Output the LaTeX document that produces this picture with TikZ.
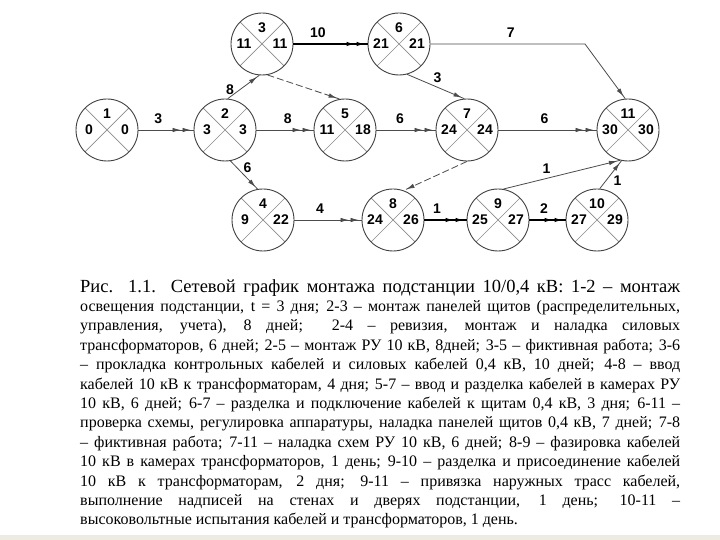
\documentclass[tikz,border=0pt]{standalone}
\usepackage{fontspec}
\setmainfont{Liberation Serif}
\newfontfamily\numfont{Liberation Sans}
\usetikzlibrary{arrows.meta,decorations.markings}

\definecolor{stripbg}{RGB}{238,236,224}

\newcommand{\evnode}[4]{%
  \node[event] (n#1) at (#2) {};
  \node[num] at ([yshift=16pt]n#1.center) {#1};
  \node[num] at ([xshift=-18pt]n#1.center) {#3};
  \node[num] at ([xshift=18pt]n#1.center) {#4};
}

\begin{document}
\begin{tikzpicture}[x=1pt, y=1pt,
  event/.style={circle, draw=black!75, line width=0.9pt, minimum size=62pt, inner sep=0pt,
    path picture={\draw[black!45, line width=0.7pt]
      (path picture bounding box.north west) -- (path picture bounding box.south east)
      (path picture bounding box.north east) -- (path picture bounding box.south west);}},
  num/.style={font=\numfont\bfseries\fontsize{14}{15}\selectfont, inner sep=0pt, text=black},
  lab/.style={font=\numfont\bfseries\fontsize{14}{15}\selectfont, inner sep=1pt, text=black},
  flow/.style={draw=black!70, line width=0.8pt, postaction={decorate},
    decoration={markings, mark=at position -3pt with {\arrow{Latex[length=8pt,width=4.5pt]}}}},
  flowgap/.style={flow,
    decoration={markings, mark=at position -13pt with {\arrow{Latex[length=8pt,width=4.5pt]}}}},
  heavy/.style={draw=black, line width=1.3pt},
  dummy/.style={flow, dash pattern=on 7pt off 3pt}]

  \useasboundingbox (0,0) rectangle (720,540);
  \fill[white] (0,0) rectangle (720,540);
  \fill[stripbg] (0,0) rectangle (720,5);

  \evnode{1}{107,410}{0}{0}
  \evnode{2}{225,410}{3}{3}
  \evnode{3}{262,496}{11}{11}
  \evnode{4}{263,320}{9}{22}
  \evnode{5}{345,410}{11}{18}
  \evnode{6}{399,496}{21}{21}
  \evnode{7}{467,410}{24}{24}
  \evnode{8}{393,320}{24}{26}
  \evnode{9}{498,320}{25}{27}
  \evnode{10}{597,320}{27}{29}
  \evnode{11}{628,410}{30}{30}
  \coordinate (b611) at (585,496);

  \draw[flowgap] (n1) -- node[lab, above=5pt, pos=0.36] {3} (n2);
  \draw[flow] (n2.85) -- node[lab, left=5pt, pos=0.4] {8} (n3.265);
  \draw[flowgap] (n2) -- node[lab, above=5pt, pos=0.55] {8} (n5);
  \draw[flow] (n2.-80) -- node[lab, right=5pt, pos=0.25] {6} (n4.100);
  \draw[flowgap, heavy] (n3) -- node[lab, above=5pt, pos=0.33] {10} (n6);
  \draw[dummy] (n3.280) -- (n5.100);
  \draw[flowgap] (n5) -- node[lab, above=5pt, pos=0.4] {6} (n7);
  \draw[flow] (n6.285) -- node[lab, above right=1pt, pos=0.42] {3} (n7.95);
  \draw[flow] (n6) -- node[lab, above=5pt, pos=0.52] {7} (b611) -- (n11.95);
  \draw[flowgap] (n7) -- node[lab, above=5pt, pos=0.47] {6} (n11);
  \draw[dummy] (n7.south) -- (n8.70);
  \draw[flowgap] (n4) -- node[lab, above=5pt, pos=0.38] {4} (n8);
  \draw[flowgap, heavy] (n8) -- node[lab, above=5pt, pos=0.3] {1} (n9);
  \draw[flowgap, heavy] (n9) -- node[lab, above=5pt, pos=0.4] {2} (n10);
  \draw[flow] (n9.80) -- node[lab, above=4pt, pos=0.37] {1} (n11.255);
  \draw[flow] (n10.85) -- node[lab, right=6pt, pos=0.3] {1} (n11.258);

  \node[anchor=north west, inner sep=0pt, text width=600pt, align=justify,
    font=\fontsize{16}{19.4}\selectfont] (caption) at (80,261) {%
    \hyphenpenalty=10000 \exhyphenpenalty=10000
    {\fontsize{18.5}{19.4}\selectfont Рис. 1.1. Сетевой график монтажа подстанции 10/0,4 кВ: 1-2 – монтаж}\linebreak
    освещения подстанции, t = 3 дня; 2-3 – монтаж панелей щитов (распределительных,\linebreak
    управления, учета), 8 дней;\ \ 2-4 – ревизия, монтаж и наладка силовых\linebreak
    трансформаторов, 6 дней; 2-5 – монтаж РУ 10 кВ, 8дней; 3-5 – фиктивная работа; 3-6\linebreak
    – прокладка контрольных кабелей и силовых кабелей 0,4 кВ, 10 дней; 4-8 – ввод\linebreak
    кабелей 10 кВ к трансформаторам, 4 дня; 5-7 – ввод и разделка кабелей в камерах РУ\linebreak
    10 кВ, 6 дней; 6-7 – разделка и подключение кабелей к щитам 0,4 кВ, 3 дня; 6-11 –\linebreak
    проверка схемы, регулировка аппаратуры, наладка панелей щитов 0,4 кВ, 7 дней; 7-8\linebreak
    – фиктивная работа; 7-11 – наладка схем РУ 10 кВ, 6 дней; 8-9 – фазировка кабелей\linebreak
    10 кВ в камерах трансформаторов, 1 день; 9-10 – разделка и присоединение кабелей\linebreak
    10 кВ к трансформаторам, 2 дня; 9-11 – привязка наружных трасс кабелей,\linebreak
    выполнение надписей на стенах и дверях подстанции, 1 день; 10-11 –\linebreak
    высоковольтные испытания кабелей и трансформаторов, 1 день.};
\end{tikzpicture}
\end{document}
